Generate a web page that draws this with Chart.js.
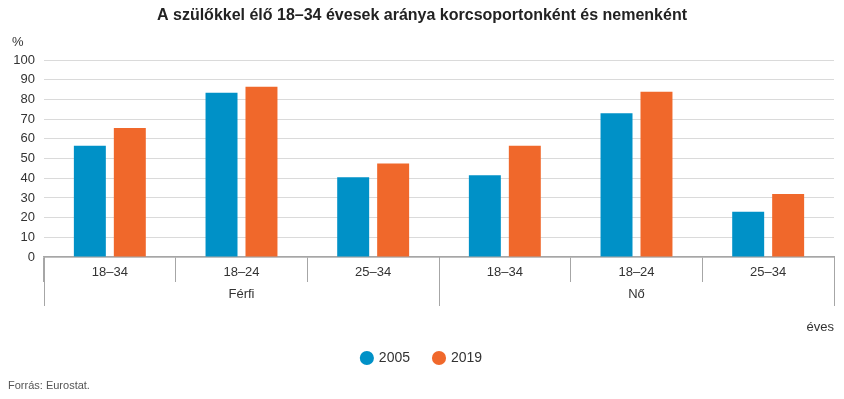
<!DOCTYPE html>
<html><head><meta charset="utf-8">
<script src="https://cdn.jsdelivr.net/npm/chart.js@4/dist/chart.umd.min.js"></script>
<style>html,body{margin:0;padding:0;background:#fff}#wrap{width:844px;height:399px}</style>
</head><body><div id="wrap"><canvas id="c" width="844" height="399"></canvas></div>
<script>
const categories = ['18–34','18–24','25–34','18–34','18–24','25–34'];
const groups = ['Férfi','Nő'];
const groupSize = 3;
const seriesNames = ['2005','2019'];
const series2005 = [56.5, 83.5, 40.5, 41.5, 73, 23];
const series2019 = [65.5, 86.5, 47.5, 56.5, 84, 32];
const yTicks = [0,10,20,30,40,50,60,70,80,90,100];
const titleText = 'A szülőkkel élő 18–34 évesek aránya korcsoportonként és nemenként';
const unitText = '%';
const axisNote = 'éves';
const sourceText = 'Forrás: Eurostat.';

const FONT = "'Liberation Sans', Arial, sans-serif";
const BLUE = '#0091c7', ORANGE = '#f0682b';
const AXIS = '#a6a6a6';

const extras = {
  id: 'extras',
  afterDraw(chart) {
    const ctx = chart.ctx, x = chart.scales.x, area = chart.chartArea;
    const step = x.getPixelForTick(1) - x.getPixelForTick(0);
    const edge = i => x.getPixelForTick(0) - step/2 + i*step;
    ctx.save();
    ctx.strokeStyle = AXIS; ctx.lineWidth = 1;
    for (let g = 0; g <= groups.length; g++) {
      const px = Math.round(edge(g*groupSize)) + 0.5;
      ctx.beginPath(); ctx.moveTo(px, area.bottom); ctx.lineTo(px, area.bottom + 49); ctx.stroke();
    }
    ctx.fillStyle = '#333';
    ctx.font = '13px ' + FONT;
    ctx.textAlign = 'center'; ctx.textBaseline = 'middle';
    groups.forEach((gname, g) => {
      const cx = (edge(g*groupSize) + edge((g+1)*groupSize)) / 2;
      ctx.fillText(gname, cx, area.bottom + 37);
    });
    ctx.textAlign = 'left';
    ctx.fillText(unitText, 12, 42);
    ctx.textAlign = 'right';
    ctx.fillText(axisNote, area.right, 327);
    ctx.textAlign = 'left';
    ctx.font = '11px ' + FONT;
    ctx.fillStyle = '#555';
    ctx.fillText(sourceText, 8, 386);
    ctx.restore();
  }
};

new Chart(document.getElementById('c'), {
  type: 'bar',
  data: {
    labels: categories,
    datasets: [
      { label: seriesNames[0], data: series2005, backgroundColor: BLUE, borderWidth: 0 },
      { label: seriesNames[1], data: series2019, backgroundColor: ORANGE, borderWidth: 0 }
    ]
  },
  options: {
    responsive: false,
    animation: false,
    devicePixelRatio: 1,
    layout: { padding: { left: 10, right: 10, top: 0, bottom: 24 } },
    datasets: { bar: { categoryPercentage: 0.607, barPercentage: 0.8 } },
    plugins: {
      title: {
        display: true, text: titleText, color: '#222',
        font: { family: FONT, size: 16, weight: 'bold', lineHeight: 1.2 },
        padding: { top: 6, bottom: 35 }
      },
      legend: {
        display: true, position: 'bottom',
        labels: {
          usePointStyle: true, pointStyle: 'circle', boxWidth: 10, boxHeight: 10,
          color: '#333', font: { family: FONT, size: 14 }, padding: 24
        }
      },
      tooltip: { enabled: false }
    },
    scales: {
      y: {
        min: 0, max: 100,
        afterBuildTicks(s) { s.ticks = yTicks.map(v => ({ value: v })); },
        afterFit(s) { s.width = 34; },
        grid: { color: '#dadada', lineWidth: 1, drawTicks: false },
        border: { display: false },
        ticks: { color: '#333', font: { family: FONT, size: 13 }, padding: 9 }
      },
      x: {
        afterFit(s) { s.height = 70; },
        grid: { display: true, drawOnChartArea: false, drawTicks: true, tickLength: 25, color: AXIS, offset: true },
        border: { display: true, color: AXIS, width: 1.5 },
        ticks: { color: '#333', font: { family: FONT, size: 13 }, padding: -17, maxRotation: 0, autoSkip: false }
      }
    }
  },
  plugins: [extras]
});
</script></body></html>
